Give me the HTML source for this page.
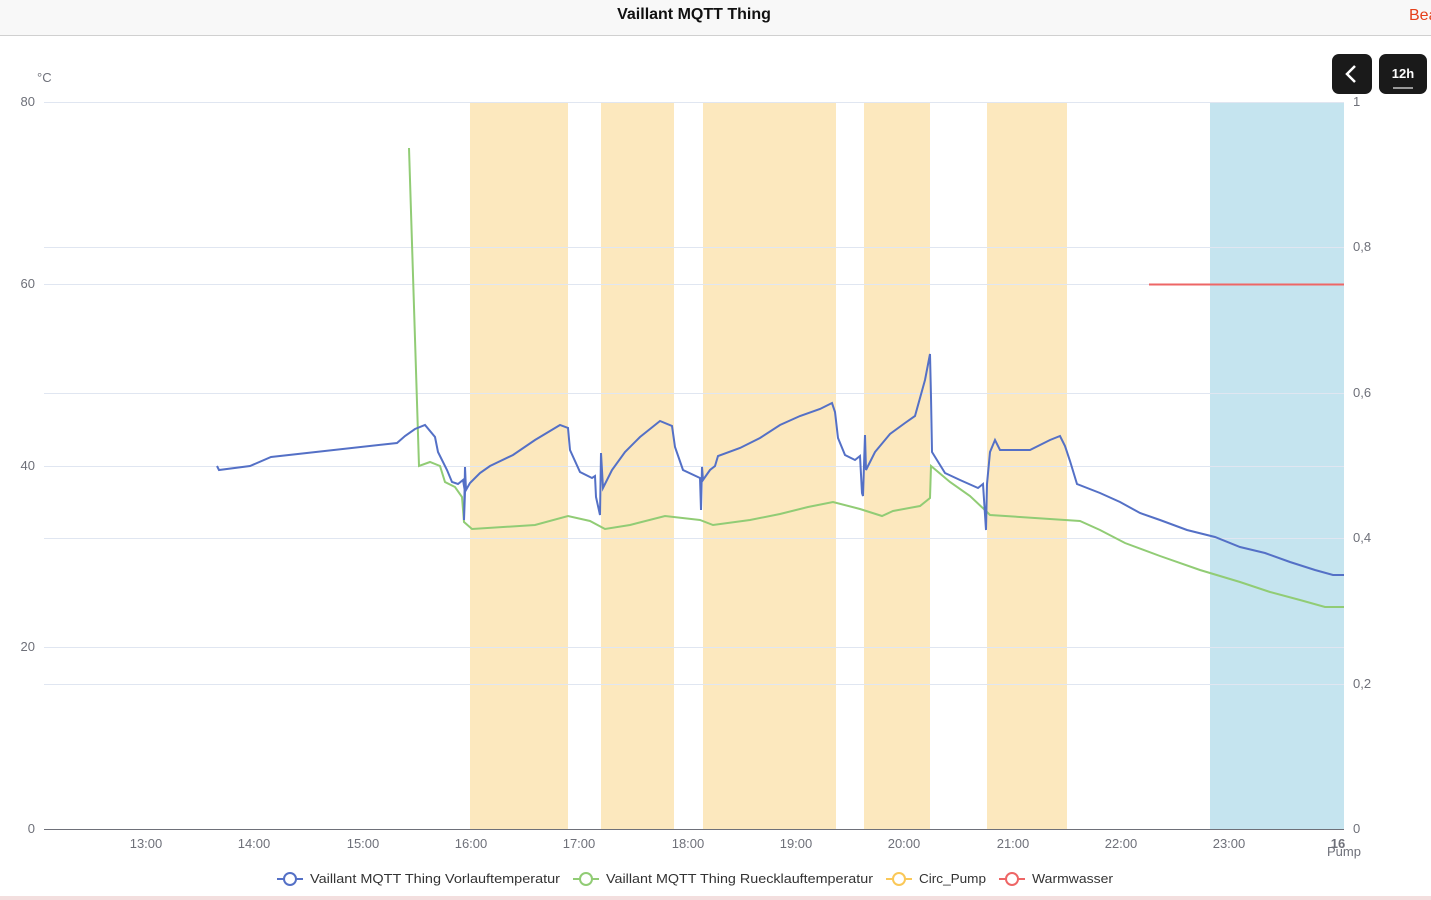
<!DOCTYPE html>
<html><head><meta charset="utf-8"><style>
body{margin:0;width:1431px;height:900px;overflow:hidden;background:#fff;font-family:"Liberation Sans",sans-serif;}
.hdr{position:absolute;left:0;top:0;width:1431px;height:35px;background:#f8f8f8;border-bottom:1px solid #d0d0d0;}
.title{position:absolute;top:6px;left:0;width:1388px;text-align:center;font-weight:bold;font-size:16px;color:#111;}
.bea{position:absolute;left:1409px;top:7px;color:#e5401a;font-size:16px;}
.btn{position:absolute;top:54px;height:40px;background:#1a1a1a;border-radius:7px;color:#fff;}
</style></head><body>
<div class="hdr"><div class="title">Vaillant MQTT Thing</div><div class="bea">Bea</div></div>
<div class="btn" style="left:1332px;width:40px;"><svg width="40" height="40"><path d="M23 12 L15 20 L23 28" stroke="#fff" stroke-width="2.5" fill="none"/></svg></div>
<div class="btn" style="left:1379px;width:48px;"><div style="text-align:center;font-size:13px;font-weight:bold;margin-top:12px;">12h</div><div style="position:absolute;left:14px;top:33px;width:20px;height:2px;background:#999"></div></div>
<svg width="1431" height="900" style="position:absolute;left:0;top:0" font-family="Liberation Sans, sans-serif">
<g fill="#fce8be"><rect x="470" y="102" width="98" height="727"/><rect x="601" y="102" width="73" height="727"/><rect x="703" y="102" width="133" height="727"/><rect x="864" y="102" width="66" height="727"/><rect x="987" y="102" width="80" height="727"/></g>
<rect x="1210" y="102" width="134" height="727" fill="#c5e4ef"/>
<g stroke="#e0e6f1" stroke-width="1"><line x1="44" x2="1344" y1="102.5" y2="102.5"/><line x1="44" x2="1344" y1="284.5" y2="284.5"/><line x1="44" x2="1344" y1="466.5" y2="466.5"/><line x1="44" x2="1344" y1="647.5" y2="647.5"/><line x1="44" x2="1344" y1="247.5" y2="247.5"/><line x1="44" x2="1344" y1="393.5" y2="393.5"/><line x1="44" x2="1344" y1="538.5" y2="538.5"/><line x1="44" x2="1344" y1="684.5" y2="684.5"/></g>
<line x1="44" x2="1344" y1="829.5" y2="829.5" stroke="#6e7079"/>
<g fill="#6e7079" font-size="13"><text x="37" y="82">°C</text>
<g text-anchor="end"><text x="35" y="106">80</text><text x="35" y="288">60</text><text x="35" y="470">40</text><text x="35" y="651">20</text><text x="35" y="833">0</text></g>
<text x="1353" y="106">1</text><text x="1353" y="251">0,8</text><text x="1353" y="397">0,6</text><text x="1353" y="542">0,4</text><text x="1353" y="688">0,2</text><text x="1353" y="833">0</text>
<g text-anchor="middle"><text x="146" y="848">13:00</text><text x="254" y="848">14:00</text><text x="363" y="848">15:00</text><text x="471" y="848">16:00</text><text x="579" y="848">17:00</text><text x="688" y="848">18:00</text><text x="796" y="848">19:00</text><text x="904" y="848">20:00</text><text x="1013" y="848">21:00</text><text x="1121" y="848">22:00</text><text x="1229" y="848">23:00</text><text x="1338" y="848" font-weight="bold">16</text><text x="1344" y="856">Pump</text></g></g>
<line x1="1149" x2="1344" y1="284.5" y2="284.5" stroke="#ee6666" stroke-width="2"/>
<polyline fill="none" stroke="#91cc75" stroke-width="2" points="409,148 419,466 430,462 440,466 445,482 455,487 462,497 464,522 472,529 535,525 568,516 590,521 605,529 630,525 665,516 700,520 713,525 750,520 780,514 808,507 833,502 860,509 882,516 893,511 920,506 930,498 931,466 950,482 970,496 987,512 990,515 1080,521 1100,530 1125,543 1160,556 1200,570 1240,582 1270,592 1300,600 1325,607 1344,607"/>
<polyline fill="none" stroke="#5470c6" stroke-width="2" points="217,466 219,470 250,466 271,457 397,443 405,436 415,429 425,425 435,437 438,452 447,470 452,482 458,484 463,480 465,492 464,520 465,467 466,490 470,483 480,473 490,466 513,455 535,440 560,425 568,428 570,450 580,472 592,478 595,476 596,497 600,515 601,453 603,488 612,470 625,452 640,437 660,421 672,426 675,447 683,470 700,478 701,510 702,467 703,480 710,470 715,466 718,456 740,448 760,438 780,425 800,416 820,409 832,403 835,412 838,438 845,455 855,460 860,456 862,493 863,496 865,435 866,470 875,452 890,434 905,423 915,416 925,380 930,354 931,397 932,452 945,473 960,480 978,488 983,484 986,530 987,484 990,452 995,440 1000,450 1005,450 1030,450 1050,440 1060,436 1065,446 1070,461 1077,484 1100,493 1120,502 1140,513 1160,520 1187,530 1215,537 1240,547 1265,553 1290,562 1315,570 1333,575 1344,575"/>
<g font-size="13" fill="#333">
<line x1="277" x2="303" y1="879" y2="879" stroke="#5470c6" stroke-width="2"/><circle cx="290" cy="879" r="6" fill="#fff" stroke="#5470c6" stroke-width="2"/><text x="310" y="883" textLength="250" lengthAdjust="spacingAndGlyphs">Vaillant MQTT Thing Vorlauftemperatur</text>
<line x1="573" x2="599" y1="879" y2="879" stroke="#91cc75" stroke-width="2"/><circle cx="586" cy="879" r="6" fill="#fff" stroke="#91cc75" stroke-width="2"/><text x="606" y="883" textLength="267" lengthAdjust="spacingAndGlyphs">Vaillant MQTT Thing Ruecklauftemperatur</text>
<line x1="886" x2="912" y1="879" y2="879" stroke="#fac858" stroke-width="2"/><circle cx="899" cy="879" r="6" fill="#fff" stroke="#fac858" stroke-width="2"/><text x="919" y="883" textLength="67" lengthAdjust="spacingAndGlyphs">Circ_Pump</text>
<line x1="999" x2="1025" y1="879" y2="879" stroke="#ee6666" stroke-width="2"/><circle cx="1012" cy="879" r="6" fill="#fff" stroke="#ee6666" stroke-width="2"/><text x="1032" y="883" textLength="81" lengthAdjust="spacingAndGlyphs">Warmwasser</text></g>
<rect x="0" y="896" width="1431" height="4" fill="#f3dede"/>
</svg>
</body></html>
